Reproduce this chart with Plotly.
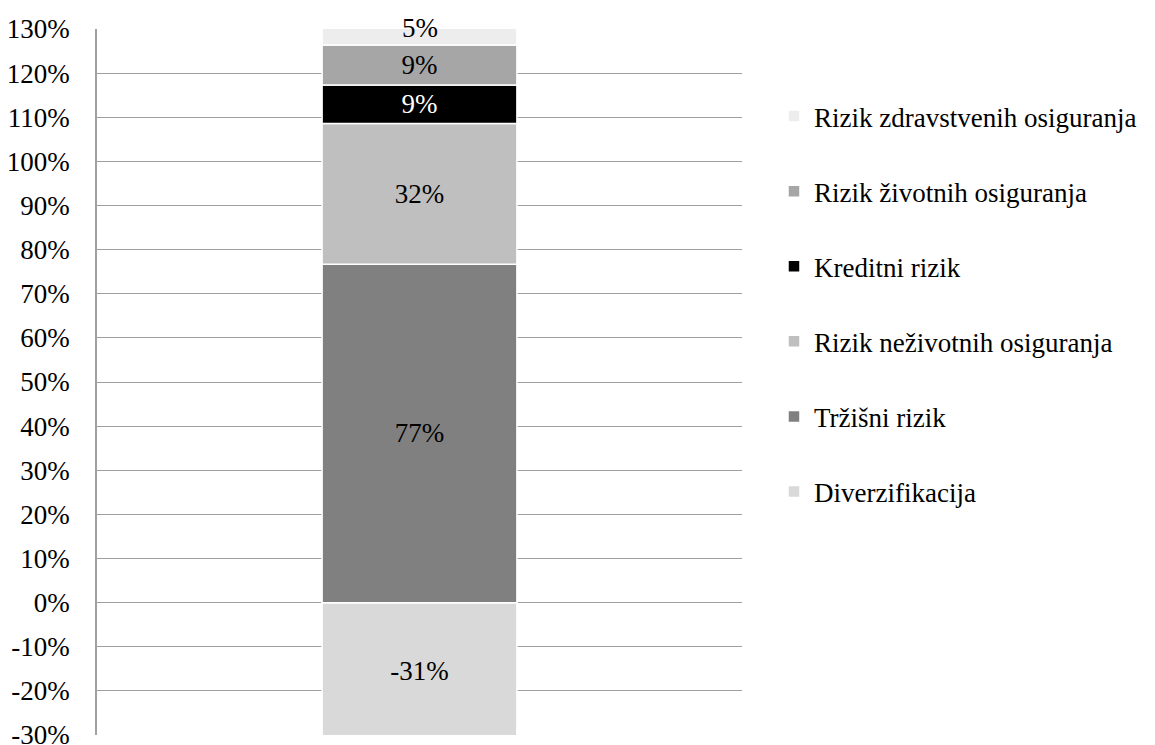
import plotly.graph_objects as go

# Podaci (u postocima)
category = ["SCR"]
series_names = [
    "Diverzifikacija",
    "Tržišni rizik",
    "Rizik neživotnih osiguranja",
    "Kreditni rizik",
    "Rizik životnih osiguranja",
    "Rizik zdravstvenih osiguranja",
]
series_values = [-31, 76.7, 31.9, 8.7, 9.1, 5]
series_colors = ["#d9d9d9", "#808080", "#bfbfbf", "#000000", "#a6a6a6", "#ededed"]
text_colors = ["black", "black", "black", "white", "black", "black"]
y_ticks = list(range(-30, 131, 10))
y_tick_text = [f"{v}%" for v in y_ticks]

font_family = "Liberation Serif"
fs = 27

fig = go.Figure()
for i, (name, val, col, tcol) in enumerate(zip(series_names, series_values, series_colors, text_colors)):
    last = i == len(series_names) - 1
    fig.add_trace(go.Bar(
        x=category,
        y=[val],
        name=name,
        marker=dict(color=col, line=dict(color="white", width=1.5)),
        width=0.302,
        text=[f"{round(val)}%"],
        textposition="none" if last else "inside",
        insidetextanchor="middle",
        constraintext="none",
        textangle=0,
        textfont=dict(family=font_family, size=fs, color=tcol),
        legendgroup=name,
        legendrank=1000 - i,
    ))

# oznaka zadnjeg segmenta (odrezan na vrhu osi) ide kao anotacija
stack_top = sum(v for v in series_values if v > 0)
fig.add_annotation(
    x=category[0],
    y=stack_top - series_values[-1] / 2,
    xref="x", yref="y",
    text=f"{round(series_values[-1])}%",
    showarrow=False,
    yshift=6,
    font=dict(family=font_family, size=fs, color=text_colors[-1]),
)

# stranica ima 8px margine tijela, pa se to oduzima
fig.update_layout(
    barmode="relative",
    width=1147,
    height=745,
    margin=dict(l=89, r=413, t=21, b=18, autoexpand=False),
    plot_bgcolor="white",
    paper_bgcolor="white",
    font=dict(family=font_family, size=fs, color="black"),
    legend=dict(
        x=1.0496, y=0.6105, xanchor="left", yanchor="middle",
        traceorder="grouped", tracegroupgap=37,
        font=dict(family=font_family, size=fs),
        itemwidth=30,
    ),
    showlegend=True,
)
fig.update_xaxes(showticklabels=False, showgrid=False, showline=False,
                 range=[-0.5, 0.5])
fig.update_yaxes(
    range=[-30, 130],
    tickmode="array",
    tickvals=y_ticks,
    ticktext=y_tick_text,
    ticks="outside",
    ticklen=20,
    tickcolor="white",
    showgrid=True,
    gridcolor="#a0a0a0",
    gridwidth=1.2,
    zeroline=False,
    showline=True,
    linecolor="#a0a0a0",
    linewidth=1.6,
    automargin=False,
    tickfont=dict(family=font_family, size=fs, color="black"),
)

fig.write_html("out.html")
